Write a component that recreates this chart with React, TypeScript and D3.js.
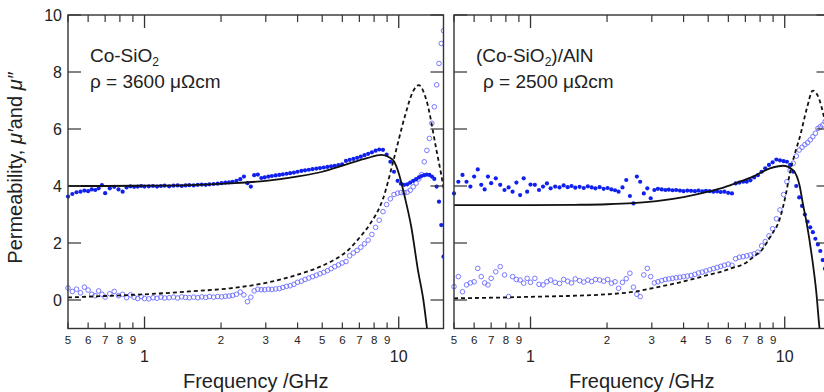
import * as d3 from "d3";
import React from "react";

// measurement frequency grid (GHz), shared by all scatter series
const freq = [
  0.50, 0.52, 0.54, 0.56, 0.58, 0.60, 0.62, 0.64, 0.66, 0.68, 0.70,
  0.73, 0.76, 0.79, 0.82, 0.85, 0.88, 0.91, 0.94, 0.97,
  1.00, 1.04, 1.08, 1.12, 1.16, 1.20,
  1.25, 1.30, 1.35, 1.40, 1.45, 1.50,
  1.56, 1.62, 1.68, 1.74, 1.80,
  1.87, 1.94, 2.01, 2.08, 2.15, 2.22,
  2.30, 2.38, 2.46, 2.54, 2.62, 2.70,
  2.79, 2.88, 2.97, 3.07, 3.17,
  3.28, 3.39, 3.50, 3.62, 3.74, 3.87, 4.00, 4.14, 4.28,
  4.43, 4.58, 4.74, 4.90, 5.07, 5.24, 5.42, 5.60, 5.79, 5.99,
  6.20, 6.41, 6.63, 6.86, 7.09, 7.33, 7.58, 7.84,
  8.11, 8.38, 8.67, 8.96, 9.27, 9.58, 9.90,
  10.2, 10.5, 10.8, 11.1, 11.4, 11.7, 12.0, 12.3, 12.6,
  12.9, 13.2, 13.5, 13.8, 14.1, 14.4, 14.7, 15.0,
];

// Co-SiO2, measured mu' (filled) and mu'' (open)
const coReal = [
  3.63, 3.72, 3.78, 3.80, 3.84, 3.82, 3.88, 3.86, 3.92, 4.03, 3.75,
  3.92, 3.97, 3.88, 3.80, 3.95, 3.99, 3.97, 3.98, 4.00,
  3.98, 3.99, 4.00, 3.98, 4.00, 4.01,
  3.99, 4.01, 4.02, 4.00, 4.02, 4.03,
  4.02, 4.04, 4.05, 4.04, 4.06,
  4.07, 4.08, 4.10, 4.12, 4.13, 4.15,
  4.18, 4.24, 4.33, 4.10, 3.98, 4.38,
  4.40, 4.28, 4.30, 4.33, 4.35,
  4.37, 4.39, 4.41, 4.43, 4.45, 4.47, 4.50, 4.53, 4.55,
  4.57, 4.59, 4.61, 4.63, 4.65, 4.67, 4.69, 4.71, 4.73, 4.76,
  4.88, 4.92, 4.95, 4.99, 5.03, 5.08, 5.13, 5.18,
  5.24, 5.28, 5.27, 5.10, 4.85, 4.50, 4.18,
  4.08, 4.04, 4.06, 4.12, 4.18, 4.24, 4.30, 4.35, 4.38,
  4.40, 4.39, 4.33, 4.25, 3.98, 3.45, 2.63, 1.52,
];
const coImag = [
  0.42, 0.30, 0.38, 0.25, 0.45, 0.35, 0.20, 0.15, 0.32, 0.20, 0.10,
  0.22, 0.30, 0.15, 0.20, 0.08, 0.18, 0.10, 0.05, 0.12,
  0.05, 0.04, 0.08, 0.06, 0.10, 0.07,
  0.08, 0.10, 0.07, 0.11, 0.09, 0.08,
  0.10, 0.08, 0.11, 0.09, 0.12,
  0.10, 0.12, 0.11, 0.13, 0.14, 0.16,
  0.20, 0.28, 0.18, -0.06, 0.10, 0.32,
  0.38, 0.36, 0.36, 0.38, 0.37,
  0.39, 0.40, 0.44, 0.48, 0.50, 0.55, 0.62, 0.66, 0.72,
  0.77, 0.82, 0.87, 0.92, 0.97, 1.03, 1.10, 1.17, 1.23, 1.30,
  1.35, 1.55, 1.65, 1.74, 1.85, 1.97, 2.10, 2.30,
  2.55, 2.80, 3.10, 3.35, 3.55, 3.70, 3.75,
  3.77, 3.77, 3.78, 3.85, 3.97, 4.10, 4.25, 4.40, 4.85,
  5.25, 5.67, 6.20, 6.78, 7.55, 8.30, 9.00, 9.45,
];

// (Co-SiO2)/AlN, measured mu' and mu''
const alnReal = [
  3.74, 4.15, 4.39, 4.15, 3.98, 4.33, 4.58, 4.04, 3.88, 4.33, 4.10,
  4.27, 4.04, 3.86, 3.95, 3.80, 4.12, 3.68, 4.27, 3.80,
  4.05, 4.04, 3.86, 3.98, 4.09, 3.92,
  3.98, 3.95, 4.02, 3.96, 4.00, 3.94,
  3.97, 3.93, 3.99, 3.95, 3.92,
  3.96, 3.90, 3.93, 3.88, 3.85, 3.80,
  3.95, 4.21, 3.65, 3.39, 4.33, 4.15,
  3.74, 3.92, 3.57, 3.86, 3.90,
  3.88, 3.86, 3.87, 3.85, 3.86, 3.84, 3.82, 3.84, 3.83,
  3.82, 3.84, 3.81, 3.83, 3.82, 3.80, 3.81, 3.79, 3.80, 3.76,
  3.74, 4.09, 4.12, 4.15, 4.15, 4.20, 4.30, 4.38,
  4.50, 4.62, 4.74, 4.83, 4.93, 4.90, 4.87,
  4.85, 4.74, 4.50, 4.00, 3.60, 3.30, 3.00, 2.75, 2.55,
  2.38, 2.15, 1.95, 1.72, 1.40, 1.10, 0.80, 0.50,
];
const alnImag = [
  0.47, 0.82, 0.29, 0.53, 0.60, 0.64, 1.11, 0.82, 0.60, 0.53, 0.76,
  0.99, 1.17, 0.88, 0.12, 0.82, 0.72, 0.70, 0.59, 0.76,
  0.62, 0.76, 0.55, 0.53, 0.64, 0.70,
  0.62, 0.58, 0.72, 0.66, 0.60, 0.74,
  0.68, 0.63, 0.70, 0.65, 0.72,
  0.70, 0.66, 0.72, 0.59, 0.64, 0.41,
  0.62, 0.75, 0.94, 0.45, 0.20, 0.12,
  0.88, 1.11, 0.82, 0.60, 0.64,
  0.68, 0.72, 0.74, 0.76, 0.78, 0.80, 0.82, 0.84, 0.86,
  0.90, 0.95, 0.98, 1.02, 1.06, 1.10, 1.14, 1.18, 1.22, 1.26,
  1.22, 1.45, 1.50, 1.52, 1.55, 1.58, 1.62, 1.68,
  1.90, 2.05, 2.25, 2.50, 2.85, 3.16, 3.70,
  4.15, 4.55, 4.80, 5.05, 5.26, 5.36, 5.45, 5.52, 5.62,
  5.73, 5.85, 6.02, 6.08, 6.14, 6.25, 6.35, 6.45,
];

// fitted curves
const coFitRealF = [0.5, 0.7, 1, 1.5, 2.17, 3, 3.97, 5, 6.23, 7.5, 8.55, 9.2, 9.6, 10, 10.56, 11.2, 11.9, 12.5, 12.9, 13.1];
const coFitReal = [4.0, 4.0, 4.01, 4.03, 4.09, 4.18, 4.33, 4.5, 4.76, 4.98, 5.09, 5.0, 4.85, 4.45, 3.62, 2.57, 1.05, 0.0, -0.94, -1.4];
const coFitImagF = [0.5, 0.7, 1, 1.5, 2.17, 3, 3.97, 5, 5.6, 6.23, 7.03, 7.69, 8.67, 9.62, 10.56, 11.37, 11.98, 12.84, 14.07, 14.9, 15.2];
const coFitImag = [0.09, 0.14, 0.2, 0.3, 0.41, 0.6, 0.88, 1.2, 1.42, 1.7, 2.2, 2.65, 3.55, 5.03, 6.43, 7.31, 7.54, 7.02, 5.26, 4.09, 3.6];
const alnFitRealF = [0.5, 0.7, 1, 1.5, 2, 2.53, 3.13, 4, 5, 5.56, 6.5, 7.5, 8.74, 9.85, 10.8, 11.45, 11.8, 12.2, 12.8, 13.3, 13.7, 13.9];
const alnFitReal = [3.33, 3.33, 3.33, 3.34, 3.36, 3.4, 3.47, 3.61, 3.8, 3.91, 4.12, 4.33, 4.62, 4.71, 4.55, 4.0, 3.35, 2.7, 1.5, 0.3, -0.99, -1.5];
const alnFitImagF = [0.5, 0.7, 1.09, 1.5, 2, 2.6, 3.03, 4, 5, 5.56, 6.1, 7.07, 7.5, 8.2, 8.74, 9.6, 10.1, 10.45, 11.1, 11.45, 12.2, 12.9, 13.7, 14.2, 14.6];
const alnFitImag = [0.06, 0.08, 0.12, 0.15, 0.2, 0.3, 0.42, 0.65, 0.88, 0.98, 1.1, 1.32, 1.5, 1.8, 2.2, 2.9, 3.7, 4.4, 5.3, 5.7, 6.7, 7.35, 7.02, 6.5, 6.0];

// axis ticks
const yTicks = [0, 2, 4, 6, 8, 10];
const minorTicks = [0.5, 0.6, 0.7, 0.8, 0.9, 2, 3, 4, 5, 6, 7, 8, 9];
const minorLabels = ["5", "6", "7", "8", "9", "2", "3", "4", "5", "6", "7", "8", "9"];
const majorTicks = [1, 10];
const majorLabels = ["1", "10"];

const W = 824;
const H = 392;
const FONT = "'Liberation Sans', Arial, sans-serif";
const TOP = 15;
const BOTTOM = 328.5;
const PW = 375.5;
const FILL_BLUE = "#1020ee";
const OPEN_BLUE = "#6b6bff";

const y = d3.scaleLinear().domain([-1, 10]).range([BOTTOM, TOP]);

const Panel = ({ id, left, real, imag, fitRF, fitR, fitIF, fitI, showY }) => {
  const x = d3.scaleLog().domain([0.5, 15]).range([left, left + PW]);
  const line = d3
    .line()
    .x((d) => x(d[0]))
    .y((d) => y(d[1]))
    .curve(d3.curveMonotoneX);
  const realFit = fitRF.map((f, i) => [f, fitR[i]]);
  const imagFit = fitIF.map((f, i) => [f, fitI[i]]);
  const realPts = freq.map((f, i) => [f, real[i]]).filter((d) => d[1] != null);
  const imagPts = freq.map((f, i) => [f, imag[i]]).filter((d) => d[1] != null);
  const right = left + PW;

  return (
    <g>
      <defs>
        <clipPath id={`clip-${id}`}>
          <rect x={left} y={TOP} width={PW} height={BOTTOM - TOP} />
        </clipPath>
        <clipPath id={`clipPts-${id}`}>
          <rect x={left - 3} y={TOP - 3} width={PW + 3} height={BOTTOM - TOP + 6} />
        </clipPath>
      </defs>

      {/* scatter */}
      <g clipPath={`url(#clipPts-${id})`}>
        {imagPts.map((d, i) => (
          <circle key={"i" + i} cx={x(d[0])} cy={y(d[1])} r={2.3} fill="none" stroke={OPEN_BLUE} strokeWidth={0.9} />
        ))}
        {realPts.map((d, i) => (
          <circle key={"r" + i} cx={x(d[0])} cy={y(d[1])} r={2.1} fill={FILL_BLUE} />
        ))}
      </g>

      {/* fits */}
      <g clipPath={`url(#clip-${id})`}>
        <path d={line(realFit)} fill="none" stroke="#111" strokeWidth={1.8} />
        <path d={line(imagFit)} fill="none" stroke="#111" strokeWidth={1.8} strokeDasharray="4,3" />
      </g>

      {/* frame */}
      <rect x={left} y={TOP} width={PW} height={BOTTOM - TOP} fill="none" stroke="#333" strokeWidth={1.4} />

      {/* y ticks on both sides */}
      {yTicks.map((t) => (
        <g key={"y" + t}>
          <line x1={left} x2={left + 13} y1={y(t)} y2={y(t)} stroke="#333" strokeWidth={1.2} />
          <line x1={right} x2={right - 13} y1={y(t)} y2={y(t)} stroke="#333" strokeWidth={1.2} />
          {showY && (
            <text x={left - 6} y={y(t)} dy="0.36em" textAnchor="end" fontSize={16} fill="#222" fontFamily={FONT}>
              {t}
            </text>
          )}
        </g>
      ))}

      {/* x ticks, top and bottom */}
      {minorTicks.map((t, i) => (
        <g key={"m" + i}>
          <line x1={x(t)} x2={x(t)} y1={BOTTOM} y2={BOTTOM - 6} stroke="#333" strokeWidth={1.2} />
          <line x1={x(t)} x2={x(t)} y1={TOP} y2={TOP + 7} stroke="#333" strokeWidth={1.2} />
          <text x={x(t)} y={343.5} textAnchor="middle" fontSize={11.5} fill="#222" fontFamily={FONT}>
            {minorLabels[i]}
          </text>
        </g>
      ))}
      {majorTicks.map((t, i) => (
        <g key={"M" + i}>
          <line x1={x(t)} x2={x(t)} y1={BOTTOM} y2={BOTTOM - 12} stroke="#333" strokeWidth={1.3} />
          <line x1={x(t)} x2={x(t)} y1={TOP} y2={TOP + 13} stroke="#333" strokeWidth={1.3} />
          <text x={x(t)} y={362} textAnchor="middle" fontSize={16} fill="#222" fontFamily={FONT}>
            {majorLabels[i]}
          </text>
        </g>
      ))}

      <text x={left + PW / 2} y={388} textAnchor="middle" fontSize={20} fill="#222" fontFamily={FONT}>
        Frequency /GHz
      </text>
    </g>
  );
};

export default function App() {
  return (
    <svg width={W} height={H} style={{ position: "absolute", left: 0, top: 0, background: "#fff" }}>
      <rect width={W} height={H} fill="#fff" />
      <Panel id="co" left={68} real={coReal} imag={coImag} fitRF={coFitRealF} fitR={coFitReal} fitIF={coFitImagF} fitI={coFitImag} showY />
      <Panel id="aln" left={454} real={alnReal} imag={alnImag} fitRF={alnFitRealF} fitR={alnFitReal} fitIF={alnFitImagF} fitI={alnFitImag} showY={false} />

      <text transform="translate(22,168) rotate(-90)" textAnchor="middle" fontSize={20} fill="#222" fontFamily={FONT}>
        Permeability, <tspan fontStyle="italic">μ′</tspan>and <tspan fontStyle="italic">μ″</tspan>
      </text>

      <g fontFamily={FONT} fontSize={19} fill="#222">
        <text x={90} y={62}>
          Co-SiO<tspan fontSize={12} dy={4}>2</tspan>
        </text>
        <text x={90} y={88}>ρ = 3600 μΩcm</text>
        <text x={476} y={62}>
          (Co-SiO<tspan fontSize={12} dy={4}>2</tspan>
          <tspan dy={-4}>)/AlN</tspan>
        </text>
        <text x={483} y={88}>ρ = 2500 μΩcm</text>
      </g>
    </svg>
  );
}
